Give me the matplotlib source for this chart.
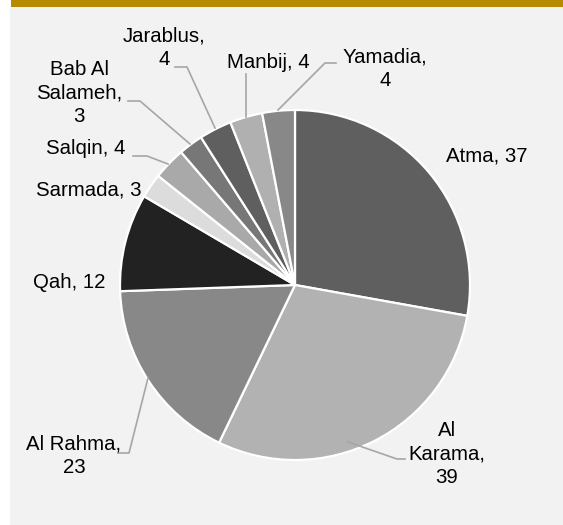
import matplotlib
matplotlib.use("Agg")
import matplotlib.pyplot as plt
from matplotlib.patches import Rectangle

# Data
categories = ["Atma", "Al Karama", "Al Rahma", "Qah", "Sarmada", "Salqin",
              "Bab Al Salameh", "Jarablus", "Manbij", "Yamadia"]
values = [37, 39, 23, 12, 3, 4, 3, 4, 4, 4]
label_texts = ["Atma, 37", "Al\nKarama,\n39", "Al Rahma,\n23", "Qah, 12", "Sarmada, 3",
               "Salqin, 4", "Bab Al\nSalameh,\n3", "Jarablus,\n4", "Manbij, 4", "Yamadia,\n4"]
colors = ["#5f5f5f", "#b2b2b2", "#888888", "#222222", "#dcdcdc",
          "#a9a9a9", "#777777", "#5f5f5f", "#b0b0b0", "#888888"]

W, H = 563, 525
fig = plt.figure(figsize=(W / 100, H / 100), dpi=100, facecolor="white")
ax = fig.add_axes([0, 0, 1, 1])
ax.set_xlim(0, W)
ax.set_ylim(0, H)
ax.set_aspect("equal")
ax.axis("off")

def Y(y):
    return H - y

# panel background and gold bar
ax.add_patch(Rectangle((10, Y(525)), W - 10, 525 - 7, facecolor="#f2f2f2", edgecolor="none", zorder=0))
ax.add_patch(Rectangle((11, Y(6.5)), W - 11, 6.5, facecolor="#b88a00", edgecolor="none", zorder=0))

cx, cy, r = 295, 285, 175
ax.pie(values, colors=colors, startangle=90, counterclock=False,
       center=(cx, Y(cy)), radius=r, frame=True,
       wedgeprops=dict(edgecolor="white", linewidth=1.6))
ax.set_xlim(0, W)
ax.set_ylim(0, H)
ax.axis("off")

# label positions (pixel coords)
label_pos = [(486.5, 156), (447, 454), (74, 456), (69, 283), (89, 190),
             (86, 148), (79, 93), (164, 47.5), (268, 62), (385, 68.5)]
for txt, (x, y) in zip(label_texts, label_pos):
    ax.text(x, Y(y), txt, ha="center", va="center", fontsize=14.7,
            family="Liberation Sans", color="#000000", linespacing=1.28, zorder=5)

# leader lines
leaders = [
    [(348, 442), (397, 459), (405, 459)],          # Al Karama
    [(148, 378), (129, 453), (118, 453)],          # Al Rahma
    [(168, 164), (147, 156), (133, 156)],          # Salqin
    [(190, 144), (140, 101), (128, 101)],          # Bab Al Salameh
    [(215, 128), (187, 67), (175, 67)],            # Jarablus
    [(246, 117), (246, 74)],                       # Manbij
    [(278, 110), (325, 63), (336, 63)],            # Yamadia
]
for pts in leaders:
    xs = [p[0] for p in pts]
    ys = [Y(p[1]) for p in pts]
    ax.plot(xs, ys, color="#a6a6a6", linewidth=1.2, zorder=4)

fig.savefig("out.png", dpi=100, facecolor="white")
